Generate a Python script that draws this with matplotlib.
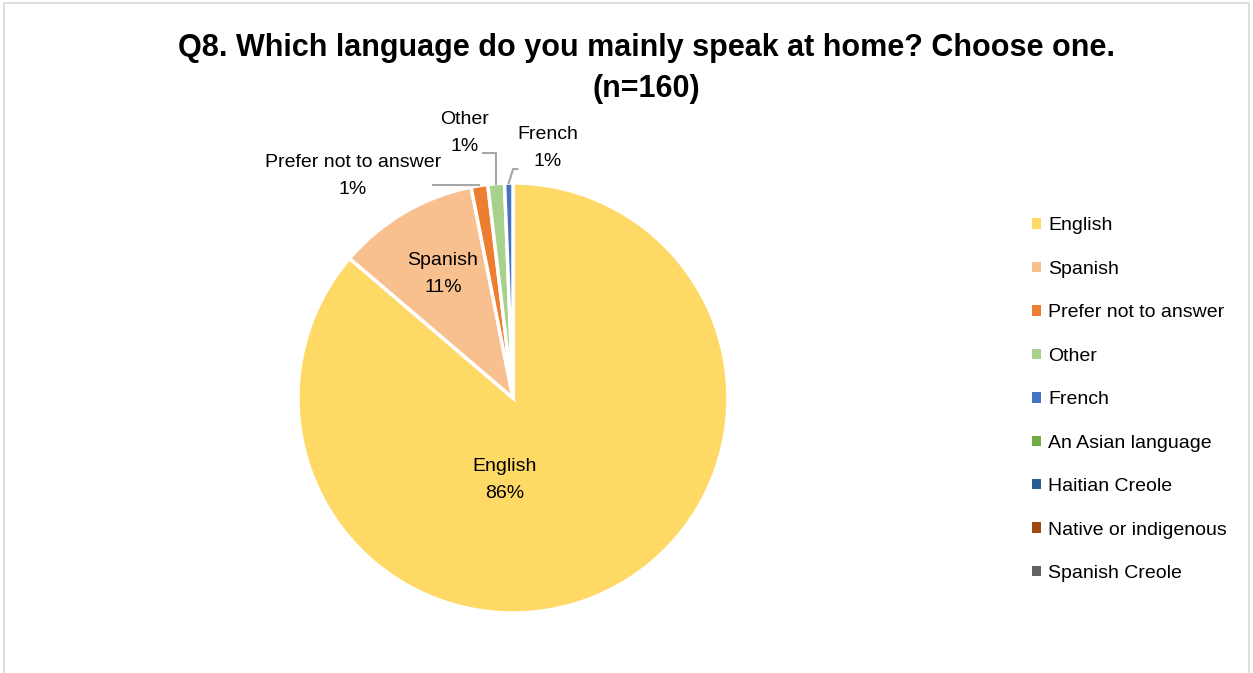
import numpy as np
import matplotlib
matplotlib.use('Agg')
import matplotlib.pyplot as plt
from matplotlib.patches import Patch, Rectangle

plt.rcParams['font.family'] = ['Liberation Sans Narrow', 'Liberation Sans', 'DejaVu Sans']

# --- dados (n=160) ---
categorias = ['English', 'Spanish', 'Prefer not to answer', 'Other', 'French',
              'An Asian language', 'Haitian Creole', 'Native or indigenous', 'Spanish Creole']
contagens = [138, 17, 2, 2, 1, 0, 0, 0, 0]
cores = ['#FFD966', '#F8BF8F', '#ED7D31', '#A9D18E', '#4472C4',
         '#70AD47', '#255E91', '#9E480E', '#636363']
titulo = 'Q8. Which language do you mainly speak at home? Choose one.\n(n=160)'

fig = plt.figure(figsize=(12.53, 6.73), dpi=100)
fig.patches.append(Rectangle((0.003, -0.01), 0.994, 1.005, transform=fig.transFigure,
                             fill=False, edgecolor='#D9D9D9', linewidth=1.2))

ax = fig.add_axes([0.2378, 0.0891, 0.3432, 0.639])

# so as fatias com valor > 0 sao desenhadas
idx = [i for i, c in enumerate(contagens) if c > 0]
vals = [contagens[i] for i in idx]
wedges, _ = ax.pie(vals, colors=[cores[i] for i in idx], startangle=90, counterclock=False,
                   radius=1, wedgeprops=dict(edgecolor='white', linewidth=2.5))
ax.set_xlim(-1, 1)
ax.set_ylim(-1, 1)
ax.set_aspect('equal')

total = sum(contagens)
fs = 14
ls = 1.75

# rotulos internos
internos = {0: (-0.037, -0.381), 1: (-0.326, 0.577)}
for k, pos in internos.items():
    i = idx[k]
    ax.text(pos[0], pos[1], f'{categorias[i]}\n{round(100 * contagens[i] / total)}%',
            ha='center', va='center', fontsize=fs, linespacing=ls)

# rotulos externos com linhas de chamada
externos = {
    2: dict(texto=(-0.744, 1.033), cotovelo=(-0.37, 1.0)),
    3: dict(texto=(-0.223, 1.233), cotovelo=(-0.14, 1.14)),
    4: dict(texto=(0.163, 1.163), cotovelo=(0.02, 1.065)),
}
for k, d in externos.items():
    i = idx[k]
    w = wedges[k]
    ang = np.deg2rad((w.theta1 + w.theta2) / 2)
    ancora = (np.cos(ang), np.sin(ang))
    tx, ty = d['texto']
    ax.text(tx, ty, f'{categorias[i]}\n{round(100 * contagens[i] / total)}%',
            ha='center', va='center', fontsize=fs, linespacing=ls)
    ex, ey = d['cotovelo']
    if k == 2:
        xs, ys = [ex, ancora[0]], [ancora[1] + 0.005, ancora[1] + 0.005]
    elif k == 3:
        xs, ys = [ex, ancora[0], ancora[0]], [ey, ey, ancora[1]]
    else:
        xs, ys = [ex, ancora[0] + 0.02, ancora[0]], [ey, ey, ancora[1]]
    ax.plot(xs, ys, color='#A6A6A6', linewidth=1.5, clip_on=False)

# legenda com todas as categorias
handles = [Patch(facecolor=cores[i], edgecolor='none') for i in range(len(categorias))]
fig.legend(handles, categorias, loc='center left', bbox_to_anchor=(0.81, 0.406),
           frameon=False, fontsize=fs, handlelength=0.45, handleheight=0.45,
           handletextpad=0.35, labelspacing=1.36)

fig.text(0.516, 0.898, titulo, ha='center', va='center', fontsize=22,
         fontweight='bold', linespacing=1.5)

fig.savefig('out.png', dpi=100)
